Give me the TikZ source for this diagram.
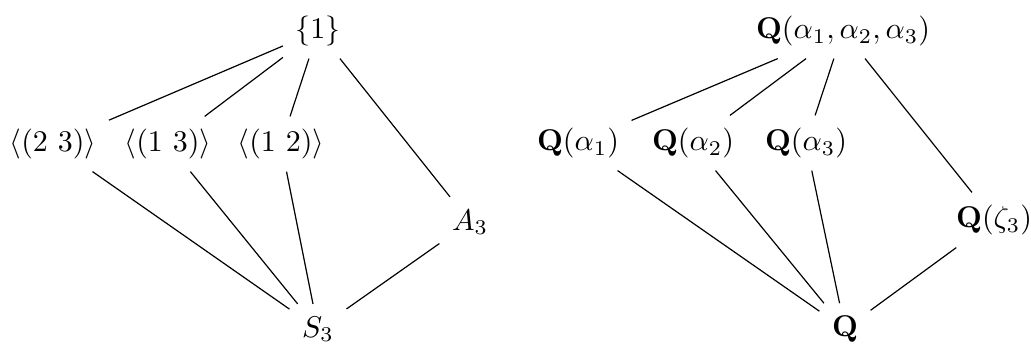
\documentclass[tikz,border=0pt]{standalone}
\usepackage{amsmath,amssymb}
\usepackage{tikz}

\begin{document}
\begin{tikzpicture}[x=0.3333pt,y=-0.3333pt,every node/.style={inner sep=4pt}]
\useasboundingbox (0,0) rectangle (1031,345);
% subgroup lattice of S_3
\node (one) at (318,31) {$\{1\}$};
\node (cA) at (53,144) {$\langle(2\ 3)\rangle$};
\node (cB) at (168,144) {$\langle(1\ 3)\rangle$};
\node (cC) at (281,144) {$\langle(1\ 2)\rangle$};
\node (alt) at (470,222) {$A_3$};
\node (sym) at (318,329) {$S_3$};
\foreach \a/\b in {one/cA,one/cB,one/cC,one/alt,cA/sym,cB/sym,cC/sym,alt/sym} {\draw (\a) -- (\b);}
% field lattice
\node (top) at (843,31) {$\mathbf{Q}(\alpha_1,\alpha_2,\alpha_3)$};
\node (fA) at (578,143) {$\mathbf{Q}(\alpha_1)$};
\node (fB) at (693,143) {$\mathbf{Q}(\alpha_2)$};
\node (fC) at (806,143) {$\mathbf{Q}(\alpha_3)$};
\node (zet) at (994,220) {$\mathbf{Q}(\zeta_3)$};
\node (rat) at (845,329) {$\mathbf{Q}$};
\foreach \a/\b in {top/fA,top/fB,top/fC,top/zet,fA/rat,fB/rat,fC/rat,zet/rat} {\draw (\a) -- (\b);}
\end{tikzpicture}
\end{document}
